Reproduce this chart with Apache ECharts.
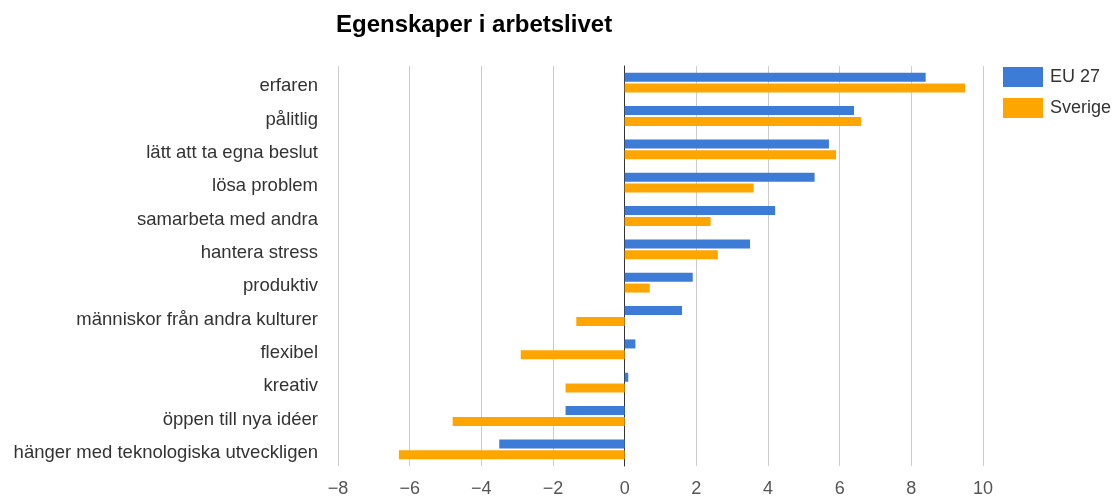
<!DOCTYPE html>
<html>
<head>
<meta charset="utf-8">
<script src="https://cdn.jsdelivr.net/npm/echarts@6/dist/echarts.min.js"></script>
<style>
  html, body { margin: 0; padding: 0; background: #fff; }
  #chart { width: 1113px; height: 496px; }
</style>
</head>
<body>
<div id="chart"></div>
<script>
// kategorier, uppifrån och ned
const categories = [
  'erfaren',
  'pålitlig',
  'lätt att ta egna beslut',
  'lösa problem',
  'samarbeta med andra',
  'hantera stress',
  'produktiv',
  'människor från andra kulturer',
  'flexibel',
  'kreativ',
  'öppen till nya idéer',
  'hänger med teknologiska utveckligen'
];
const eu27 = [8.4, 6.4, 5.7, 5.3, 4.2, 3.5, 1.9, 1.6, 0.3, 0.1, -1.65, -3.5];
const sverige = [9.5, 6.6, 5.9, 3.6, 2.4, 2.6, 0.7, -1.35, -2.9, -1.65, -4.8, -6.3];

const font = 'Arial, "Liberation Sans", sans-serif';

let chart = echarts.init(document.getElementById('chart'));

let option = {
  backgroundColor: '#fff',
  animation: false,
  title: {
    text: 'Egenskaper i arbetslivet',
    left: 331,
    top: 8,
    textStyle: { fontFamily: font, fontSize: 24, fontWeight: 'bold', color: '#000' }
  },
  legend: {
    orient: 'vertical',
    left: 998,
    top: 62,
    itemWidth: 40,
    itemHeight: 20,
    itemGap: 11,
    icon: 'rect',
    data: ['EU 27', 'Sverige'],
    textStyle: { fontFamily: font, fontSize: 18, color: '#333', padding: [0, 0, 0, 2] }
  },
  grid: {
    left: 338,
    right: 130,
    top: 66,
    bottom: 30,
    outerBoundsMode: 'none'
  },
  xAxis: {
    type: 'value',
    min: -8,
    max: 10,
    interval: 2,
    axisLine: { show: false },
    axisTick: { show: false },
    splitLine: { lineStyle: { color: '#cccccc', width: 1 } },
    axisLabel: {
      margin: 14,
      fontFamily: font,
      fontSize: 18,
      color: '#555',
      formatter: v => String(v).replace('-', '\u2212')
    }
  },
  yAxis: {
    type: 'category',
    data: categories,
    inverse: true,
    axisTick: { show: false },
    axisLine: { onZero: true, lineStyle: { color: '#333', width: 1 } },
    axisLabel: {
      margin: 20,
      formatter: v => '{t|' + v + '}',
      rich: {
        t: {
          fontFamily: font,
          fontSize: 18.5,
          color: '#333',
          padding: [7, 0, 0, 0]
        }
      }
    }
  },
  series: [
    {
      name: 'EU 27',
      type: 'bar',
      data: eu27,
      barWidth: 9,
      barGap: '20%',
      itemStyle: { color: '#3c7bd6' }
    },
    {
      name: 'Sverige',
      type: 'bar',
      data: sverige,
      barWidth: 9,
      barGap: '20%',
      itemStyle: { color: '#ffa500' }
    }
  ]
};

chart.setOption(option);
</script>
</body>
</html>
